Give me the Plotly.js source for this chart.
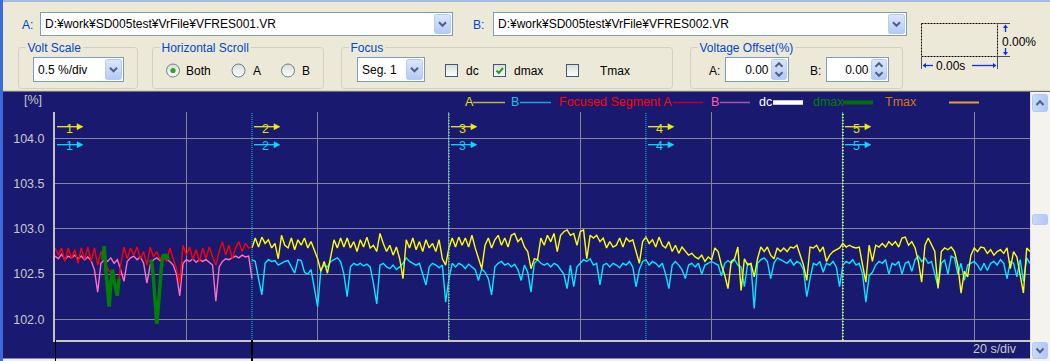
<!DOCTYPE html>
<html>
<head>
<meta charset="utf-8">
<title>VR compare</title>
<script src="https://cdn.plot.ly/plotly-3.0.1.min.js"></script>
<style>
html,body{margin:0;padding:0;}
body{width:1050px;height:361px;overflow:hidden;background:#ECE9D8;position:relative;font-family:"Liberation Sans",Arial,sans-serif;}
#toolbar{position:absolute;left:0;top:0;}
#chart{position:absolute;left:0;top:92px;width:1050px;height:269px;}
#frameL{position:absolute;left:0;top:0;width:3px;height:361px;background:#3B6BD8;z-index:5;}
#scroll{position:absolute;left:1030px;top:92px;z-index:5;}
</style>
</head>
<body>
<svg id="toolbar" width="1050" height="92" font-family="Liberation Sans, Arial, sans-serif" font-size="12"></svg>
<div id="chart"></div>
<svg id="scroll" width="20" height="269"></svg>
<div id="frameL"></div>
<script>
// ================= DATA =================
const sampleStep = 0.5;      // seconds between samples
const focusStart = 0;        // focused segment 1 starts at 0 s
const mainStart = 30;        // A / B traces from segment 2 on

// Focused segment A (red) and B (pink), 0 .. 30 s
const focusedA = [
 102.79,102.71,102.79,102.64,102.79,102.67,102.77,102.62,102.79,102.66,
 102.80,102.64,102.79,102.60,102.75,102.67,102.56,102.51,102.41,102.27,
 102.60,102.80,102.67,102.79,102.71,102.80,102.67,102.75,102.60,102.80,
 102.69,102.75,102.66,102.71,102.64,102.79,102.67,102.56,102.40,102.82,
 102.71,102.80,102.66,102.77,102.64,102.79,102.67,102.80,102.69,102.60,
 102.75,102.86,102.71,102.82,102.67,102.79,102.86,102.75,102.84,102.79,
 102.80];
const focusedB = [
 102.70,102.67,102.72,102.66,102.70,102.68,102.71,102.67,102.70,102.66,
 102.69,102.65,102.55,102.30,102.62,102.66,102.64,102.68,102.62,102.66,
 102.55,102.42,102.64,102.68,102.70,102.66,102.69,102.62,102.40,102.60,
 102.66,102.68,102.65,102.69,102.66,102.64,102.60,102.50,102.26,102.62,
 102.66,102.64,102.67,102.63,102.66,102.64,102.66,102.63,102.60,102.20,
 102.58,102.64,102.67,102.66,102.68,102.70,102.68,102.71,102.69,102.70,
 102.45];

// A (yellow) and B (cyan), 30 .. 148.5 s
const seriesA = [
 102.79,102.90,102.80,102.91,102.84,102.88,102.79,102.84,102.67,102.93,
 102.82,102.79,102.90,102.77,102.88,102.82,102.90,102.79,102.86,102.77,
 102.67,102.53,102.64,102.51,102.71,102.88,102.79,102.90,102.80,102.90,
 102.79,102.86,102.75,102.88,102.80,102.91,102.79,102.82,102.75,102.95,
 102.84,102.75,102.82,102.71,102.80,102.67,102.45,102.88,102.79,102.90,
 102.77,102.86,102.75,102.88,102.79,102.84,102.75,102.88,102.67,102.60,
 102.79,102.90,102.80,102.91,102.82,102.90,102.80,102.93,102.79,102.67,
 102.56,102.82,102.90,102.79,102.88,102.93,102.82,102.90,102.80,102.93,
 102.95,102.86,102.90,102.80,102.75,102.56,102.67,102.66,102.90,102.82,
 102.93,102.86,102.95,102.75,102.93,102.97,102.99,102.93,102.95,102.82,
 102.97,102.99,102.67,102.93,102.90,102.93,102.86,102.90,102.79,102.86,
 102.80,102.82,102.90,102.80,102.90,102.86,102.88,102.75,102.62,102.86,
 102.91,102.84,102.88,102.80,102.91,102.82,102.79,102.86,102.75,102.82,
 102.73,102.80,102.75,102.71,102.73,102.69,102.67,102.71,102.64,102.69,
 102.66,102.79,102.75,102.60,102.49,102.34,102.64,102.67,102.80,102.32,
 102.67,102.60,102.62,102.47,102.67,102.80,102.75,102.80,102.71,102.67,
 102.79,102.75,102.79,102.75,102.80,102.79,102.82,102.71,102.60,102.43,
 102.80,102.79,102.82,102.75,102.80,102.64,102.71,102.75,102.77,102.79,
 102.84,102.80,102.82,102.80,102.79,102.80,102.60,102.41,102.82,102.64,
 102.82,102.80,102.84,102.80,102.86,102.82,102.86,102.80,102.90,102.91,
 102.82,102.86,102.79,102.64,102.41,102.82,102.90,102.82,102.75,102.34,
 102.75,102.79,102.77,102.80,102.75,102.60,102.29,102.53,102.47,102.71,
 102.79,102.75,102.80,102.79,102.73,102.77,102.71,102.75,102.77,102.73,
 102.79,102.56,102.75,102.69,102.49,102.29,102.79,102.75];
const seriesB = [
 102.66,102.64,102.45,102.27,102.62,102.66,102.64,102.65,102.60,102.62,
 102.64,102.65,102.58,102.51,102.66,102.65,102.52,102.50,102.55,102.35,
 102.14,102.55,102.60,102.58,102.64,102.66,102.68,102.64,102.50,102.25,
 102.58,102.62,102.60,102.62,102.59,102.61,102.58,102.40,102.17,102.60,
 102.62,102.58,102.56,102.60,102.55,102.58,102.62,102.68,102.64,102.62,
 102.60,102.62,102.50,102.38,102.58,102.62,102.60,102.57,102.60,102.19,
 102.45,102.62,102.58,102.62,102.60,102.56,102.61,102.58,102.55,102.43,
 102.56,102.52,102.45,102.27,102.58,102.62,102.64,102.60,102.62,102.58,
 102.61,102.55,102.43,102.60,102.52,102.30,102.62,102.66,102.62,102.60,
 102.62,102.58,102.62,102.60,102.55,102.50,102.34,102.60,102.36,102.58,
 102.62,102.66,102.64,102.67,102.60,102.62,102.38,102.60,102.62,102.58,
 102.62,102.60,102.57,102.62,102.60,102.64,102.58,102.36,102.55,102.64,
 102.66,102.60,102.64,102.62,102.58,102.62,102.50,102.34,102.60,102.64,
 102.60,102.55,102.45,102.60,102.62,102.58,102.62,102.50,102.60,102.62,
 102.64,102.62,102.60,102.48,102.62,102.65,102.62,102.66,102.60,102.58,
 102.36,102.62,102.60,102.12,102.62,102.66,102.68,102.64,102.45,102.62,
 102.68,102.66,102.64,102.62,102.66,102.60,102.64,102.62,102.55,102.25,
 102.45,102.62,102.60,102.64,102.52,102.62,102.60,102.64,102.58,102.36,
 102.60,102.64,102.62,102.66,102.60,102.62,102.50,102.19,102.48,102.52,
 102.60,102.64,102.62,102.66,102.50,102.62,102.60,102.64,102.50,102.62,
 102.64,102.53,102.66,102.70,102.64,102.68,102.62,102.64,102.50,102.36,
 102.62,102.66,102.50,102.70,102.68,102.50,102.62,102.43,102.60,102.62,
 102.64,102.60,102.54,102.62,102.54,102.62,102.64,102.60,102.66,102.62,
 102.45,102.64,102.62,102.47,102.66,102.42,102.68,102.62];

// dmax regions (green) inside the focused segment
const dmaxTime  = [7.25,7.5,7.75,8,8.25,8.5,8.75,9,9.25,9.5,9.75,null,
                   14.5,14.75,15,15.25,15.5,15.75,16,16.25,16.5,16.75,17,17.25];
const dmaxValue = [102.66,102.81,102.55,102.35,102.14,102.40,102.55,102.42,102.32,102.26,102.45,null,
                   102.66,102.62,102.45,102.25,101.95,102.15,102.40,102.62,102.72,102.68,102.72,102.66];

const segmentStarts = [0, 30, 60, 90, 120];
const segmentLabels = ['1', '2', '3', '4', '5'];
const focusedSegment = [0, 30];
const yRange = [101.77, 104.296];
const xRange = [0, 148.5];
const yTickValues = [102.0, 102.5, 103.0, 103.5, 104.0];
const xGridStep = 20;

const legendNames  = ['A', 'B', 'Focused Segment A', 'B', 'dc', 'dmax', 'Tmax'];
const legendText   = ['#E0E000', '#10C8E8', '#FF0000', '#FF60B0', '#FFFFFF', '#008000', '#D07810'];
const legendLine   = ['#B8B830', '#10A8D8', '#C00020', '#B050A0', '#FFFFFF', '#007000', '#F0A020'];

const fileA = 'D:¥work¥SD005test¥VrFile¥VFRES001.VR';
const fileB = 'D:¥work¥SD005test¥VrFile¥VFRES002.VR';
const voltScale = '0.5 %/div';
const focusSeg = 'Seg. 1';
const offsetA = '0.00', offsetB = '0.00';
const timeDiv = '20 s/div';

// ================= TOOLBAR (SVG widgets) =================
const NS = 'http://www.w3.org/2000/svg';
function add(parent, tag, attrs, text) {
  const e = document.createElementNS(NS, tag);
  for (const k in attrs) e.setAttribute(k, attrs[k]);
  if (text != null) e.textContent = text;
  parent.appendChild(e);
  return e;
}
const tb = document.getElementById('toolbar');
const defs = add(tb, 'defs', {});
function grad(id, c1, c2) {
  const g = add(defs, 'linearGradient', {id: id, x1: 0, y1: 0, x2: 0, y2: 1});
  add(g, 'stop', {offset: 0, 'stop-color': c1});
  add(g, 'stop', {offset: 1, 'stop-color': c2});
}
grad('btng', '#DCE7FD', '#B3C9F6');
grad('boxg', '#DCDCD5', '#FFFFFF');
add(tb, 'rect', {x: 0, y: 0, width: 1050, height: 92, fill: '#ECE9D8'});
add(tb, 'rect', {x: 0, y: 0, width: 1050, height: 2, fill: '#A7BAE0'});
add(tb, 'rect', {x: 0, y: 90, width: 1050, height: 1, fill: '#D6D3C6'});
add(tb, 'rect', {x: 0, y: 91, width: 1050, height: 1, fill: '#707070'});

function chevron(cx, cy, up) {
  const d = up ? -1 : 1;
  add(tb, 'polyline', {points: `${cx-3.5},${cy-1.8*d} ${cx},${cy+1.8*d} ${cx+3.5},${cy-1.8*d}`,
    fill: 'none', stroke: '#4D6185', 'stroke-width': 2});
}
function dropBtn(x, y, w, h) {
  add(tb, 'rect', {x: x, y: y, width: w, height: h, rx: 2, fill: 'url(#btng)', stroke: '#B7CBF5'});
  chevron(x + w / 2, y + h / 2, false);
}
function combo(x, y, w, h, text) {
  add(tb, 'rect', {x: x, y: y, width: w, height: h, fill: '#FFFFFF', stroke: '#7F9DB9'});
  add(tb, 'text', {x: x + 4.5, y: y + h / 2 + 4.4}, text);
  dropBtn(x + w - 18, y + 2, 16, h - 4);
}
function group(x, y, w, h, label) {
  add(tb, 'rect', {x: x, y: y, width: w, height: h, rx: 3, fill: 'none', stroke: '#D0D0BF'});
  const bg = add(tb, 'rect', {x: x + 7, y: y - 6, width: 10, height: 12, fill: '#ECE9D8'});
  const t = add(tb, 'text', {x: x + 9, y: y + 4.5, fill: '#0046D5'}, label);
  bg.setAttribute('width', t.getComputedTextLength() + 4);
}
function radio(cx, cy, on, label, lx) {
  add(tb, 'circle', {cx: cx, cy: cy, r: 6.5, fill: 'url(#boxg)', stroke: '#6A7F95'});
  if (on) add(tb, 'circle', {cx: cx, cy: cy, r: 2.6, fill: '#2CA52C'});
  add(tb, 'text', {x: lx, y: cy + 4.3}, label);
}
function check(x, y, on, label, lx) {
  add(tb, 'rect', {x: x, y: y, width: 12, height: 12, fill: 'url(#boxg)', stroke: '#3C5A78'});
  if (on) add(tb, 'polyline', {points: `${x+3},${y+6} ${x+5.3},${y+8.5} ${x+9.5},${y+3.5}`,
    fill: 'none', stroke: '#21A121', 'stroke-width': 2});
  add(tb, 'text', {x: lx, y: y + 10.5}, label);
}
function spin(x, y, w, h, text) {
  add(tb, 'rect', {x: x, y: y, width: w, height: h, fill: '#FFFFFF', stroke: '#7F9DB9'});
  add(tb, 'text', {x: x + w - 20, y: y + h / 2 + 4, 'text-anchor': 'end'}, text);
  add(tb, 'rect', {x: x + w - 17, y: y + 2, width: 15, height: h - 4, rx: 2, fill: 'url(#btng)', stroke: '#B7CBF5'});
  chevron(x + w - 9.5, y + h / 2 - 4.5, true);
  chevron(x + w - 9.5, y + h / 2 + 4.5, false);
}

// row 1
add(tb, 'text', {x: 22, y: 29, fill: '#0046D5'}, 'A:');
combo(40.5, 12.5, 412, 23, fileA);
add(tb, 'text', {x: 473, y: 29, fill: '#0046D5'}, 'B:');
combo(493.5, 12.5, 413, 23, fileB);

// row 2
group(18.5, 47.5, 119, 41, 'Volt Scale');
combo(33.5, 57.5, 90, 24, voltScale);
group(152.5, 47.5, 171, 41, 'Horizontal Scroll');
radio(173, 70.5, true, 'Both', 186);
radio(238.5, 70.5, false, 'A', 253);
radio(288, 70.5, false, 'B', 302);
group(341.5, 47.5, 331, 41, 'Focus');
combo(357.5, 57.5, 67, 24, focusSeg);
check(445.5, 64.5, false, 'dc', 466);
check(493.5, 64.5, true, 'dmax', 514);
check(566.5, 64.5, false, 'Tmax', 600);
group(690.5, 47.5, 212, 41, 'Voltage Offset(%)');
add(tb, 'text', {x: 709, y: 75}, 'A:');
spin(725.5, 57.5, 63, 24, offsetA);
add(tb, 'text', {x: 810, y: 75}, 'B:');
spin(826.5, 57.5, 62, 24, offsetB);

// offset indicator box
add(tb, 'rect', {x: 921.5, y: 23.5, width: 76, height: 33, fill: 'none', stroke: '#000000', 'stroke-dasharray': '2,1'});
add(tb, 'line', {x1: 998, y1: 23.5, x2: 1010, y2: 23.5, stroke: '#505050'});
add(tb, 'line', {x1: 998, y1: 56.5, x2: 1010, y2: 56.5, stroke: '#505050'});
add(tb, 'line', {x1: 921.5, y1: 57, x2: 921.5, y2: 69, stroke: '#505050'});
add(tb, 'line', {x1: 997.5, y1: 57, x2: 997.5, y2: 69, stroke: '#505050'});
const blue = '#1030F0';
add(tb, 'line', {x1: 1005.5, y1: 26, x2: 1005.5, y2: 32, stroke: blue, 'stroke-width': 1.3});
add(tb, 'polygon', {points: '1003,28 1005.5,24.5 1008,28', fill: blue});
add(tb, 'line', {x1: 1005.5, y1: 48, x2: 1005.5, y2: 54, stroke: blue, 'stroke-width': 1.3});
add(tb, 'polygon', {points: '1003,52 1005.5,55.5 1008,52', fill: blue});
add(tb, 'text', {x: 1002, y: 46}, '0.00%');
add(tb, 'line', {x1: 924, y1: 65.5, x2: 933, y2: 65.5, stroke: blue, 'stroke-width': 1.3});
add(tb, 'polygon', {points: '926,63 922.5,65.5 926,68', fill: blue});
add(tb, 'line', {x1: 972, y1: 65.5, x2: 994, y2: 65.5, stroke: blue, 'stroke-width': 1.3});
add(tb, 'polygon', {points: '993,63 996.5,65.5 993,68', fill: blue});
add(tb, 'text', {x: 936, y: 70}, '0.00s');

// scrollbar
const sc = document.getElementById('scroll');
(function () {
  const d = add(sc, 'defs', {});
  const g = add(d, 'linearGradient', {id: 'sg', x1: 0, y1: 0, x2: 1, y2: 0});
  add(g, 'stop', {offset: 0, 'stop-color': '#C9DAFC'});
  add(g, 'stop', {offset: 1, 'stop-color': '#B0C6F5'});
  add(sc, 'rect', {x: 0, y: 0, width: 20, height: 269, fill: '#F4F3EE'});
  add(sc, 'rect', {x: 0, y: 0, width: 1, height: 269, fill: '#E2E0D6'});
  function b(y, h, dir) {
    add(sc, 'rect', {x: 2.5, y: y, width: 15, height: h, rx: 2, fill: 'url(#sg)', stroke: '#B4C8F4'});
    if (dir) {
      const cy = y + h / 2, s = dir === 'up' ? -1 : 1;
      add(sc, 'polyline', {points: `6.5,${cy-2*s} 10,${cy+1.8*s} 13.5,${cy-2*s}`, fill: 'none', stroke: '#4D6185', 'stroke-width': 2});
    }
  }
  b(2.5, 17, 'up');
  b(122.5, 10, null);
  b(250.5, 16, 'down');
})();

// ================= CHART =================
function timeAxis(start, n) {
  const t = [];
  for (let i = 0; i < n; i++) t.push(start + i * sampleStep);
  return t;
}
// page-pixel helpers for decorations (plot area: x 55..1030, y 112..340 on the page)
const PX = px => (px - 55) / 975;
const PY = py => (340 - py) / 228;

const traces = [
  {x: timeAxis(mainStart, seriesB.length), y: seriesB, type: 'scatter', mode: 'lines',
   line: {color: '#00E8FF', width: 1.4}, hoverinfo: 'skip'},
  {x: timeAxis(mainStart, seriesA.length), y: seriesA, type: 'scatter', mode: 'lines',
   line: {color: '#FFFF00', width: 1.4}, hoverinfo: 'skip'},
  {x: timeAxis(focusStart, focusedB.length), y: focusedB, type: 'scatter', mode: 'lines',
   line: {color: '#FF6EC0', width: 1.4}, hoverinfo: 'skip'},
  {x: timeAxis(focusStart, focusedA.length), y: focusedA, type: 'scatter', mode: 'lines',
   line: {color: '#FF0000', width: 1.4}, hoverinfo: 'skip'},
  {x: dmaxTime, y: dmaxValue, type: 'scatter', mode: 'lines', connectgaps: false,
   line: {color: '#008000', width: 3.5}, hoverinfo: 'skip'}
];

const font = {family: 'Liberation Sans, Arial, sans-serif', size: 12.5, color: '#C8C8C8'};
const shapes = [];
const annotations = [];

// light strip at the very bottom
shapes.push({type: 'rect', xref: 'paper', yref: 'paper', x0: PX(3), x1: PX(1030), y0: PY(358.5), y1: PY(362),
  fillcolor: '#EEEEEE', line: {width: 0}, layer: 'above'});
// focused segment markers under the axis
focusedSegment.forEach(s => shapes.push({type: 'line', xref: 'x', yref: 'paper', x0: s, x1: s, y0: 0, y1: PY(362),
  line: {color: '#000000', width: 2}}));
// segment boundaries
segmentStarts.slice(1).forEach((s, i) => {
  shapes.push({type: 'line', xref: 'x', yref: 'paper', x0: s, x1: s, y0: 0, y1: 1,
    line: {color: '#18C4EA', width: 1, dash: '1px,1px'}});
  if (i === 1 || i === 3) shapes.push({type: 'line', xref: 'x', yref: 'paper', x0: s, x1: s, y0: 0, y1: 1,
    line: {color: '#D6E840', width: i === 3 ? 2 : 1, dash: '1px,2px'}});
});
// segment number arrows (A yellow above, B cyan below), drawn as pixel-sized shapes anchored at each segment start
function segArrow(s, pageY, color) {
  const ya = PY(pageY);
  shapes.push({type: 'line', xref: 'x', yref: 'paper', xsizemode: 'pixel', ysizemode: 'pixel',
    xanchor: s, yanchor: ya, x0: 2, x1: 24, y0: 0, y1: 0, line: {color: color, width: 1.3}});
  shapes.push({type: 'path', xref: 'x', yref: 'paper', xsizemode: 'pixel', ysizemode: 'pixel',
    xanchor: s, yanchor: ya, path: 'M22,3 L28,0 L22,-3 Z', fillcolor: color, line: {color: color, width: 0.5}});
}
segmentStarts.forEach((s, i) => {
  annotations.push({xref: 'x', yref: 'paper', x: s, y: PY(119.5), xshift: 14, showarrow: false,
    text: segmentLabels[i], font: {family: font.family, size: 12.5, color: '#E2E200'}});
  annotations.push({xref: 'x', yref: 'paper', x: s, y: PY(137.5), xshift: 14, showarrow: false,
    text: segmentLabels[i], font: {family: font.family, size: 12.5, color: '#20C8F0'}});
  segArrow(s, 126.7, '#F0F000');
  segArrow(s, 144.7, '#10D8F8');
});
// legend (text then line sample), positions in page pixels
const legendTextX = [463, 509, 557, 709, 757, 811, 883];
const legendLineX = [[473, 505], [520, 551], [673, 703], [720, 750], [773, 803], [843, 873], [949, 979]];
const legendLineW = [1.5, 1.5, 1.5, 1.5, 4.5, 4, 2];
legendNames.forEach((n, i) => {
  annotations.push({xref: 'paper', yref: 'paper', x: PX(legendTextX[i]), y: PY(102.5), xanchor: 'left', yanchor: 'middle',
    showarrow: false, text: n, font: {family: font.family, size: 12.5, color: legendText[i]}});
  shapes.push({type: 'line', xref: 'paper', yref: 'paper', x0: PX(legendLineX[i][0]), x1: PX(legendLineX[i][1]),
    y0: PY(102.5), y1: PY(102.5), line: {color: legendLine[i], width: legendLineW[i]}});
});
annotations.push({xref: 'paper', yref: 'paper', x: PX(22), y: PY(100), xanchor: 'left', yanchor: 'middle',
  showarrow: false, text: '[%]', font: font});
annotations.push({xref: 'paper', yref: 'paper', x: PX(1019), y: PY(348.5), xanchor: 'right', yanchor: 'middle',
  showarrow: false, text: timeDiv, font: font});

const layout = {
  width: 1050, height: 269,
  margin: {l: 55, r: 20, t: 20, b: 21, pad: 0},
  paper_bgcolor: '#191970', plot_bgcolor: '#191970',
  showlegend: false,
  font: font,
  xaxis: {range: xRange, tick0: 0, dtick: xGridStep, showgrid: true, gridcolor: '#84849A', gridwidth: 1,
    zeroline: false, showticklabels: false, ticks: '', showline: true, linecolor: '#C8C8C8', linewidth: 2, fixedrange: true},
  yaxis: {range: yRange, tickmode: 'array', tickvals: yTickValues, tickformat: '.1f',
    showgrid: true, gridcolor: '#84849A', gridwidth: 1, zeroline: false,
    ticks: 'outside', ticklen: 6, tickcolor: 'rgba(0,0,0,0)', tickfont: font,
    showline: true, linecolor: '#C0C0C0', linewidth: 2, fixedrange: true},
  shapes: shapes,
  annotations: annotations
};
Plotly.newPlot('chart', traces, layout, {displayModeBar: false, staticPlot: true});
</script>
</body>
</html>
